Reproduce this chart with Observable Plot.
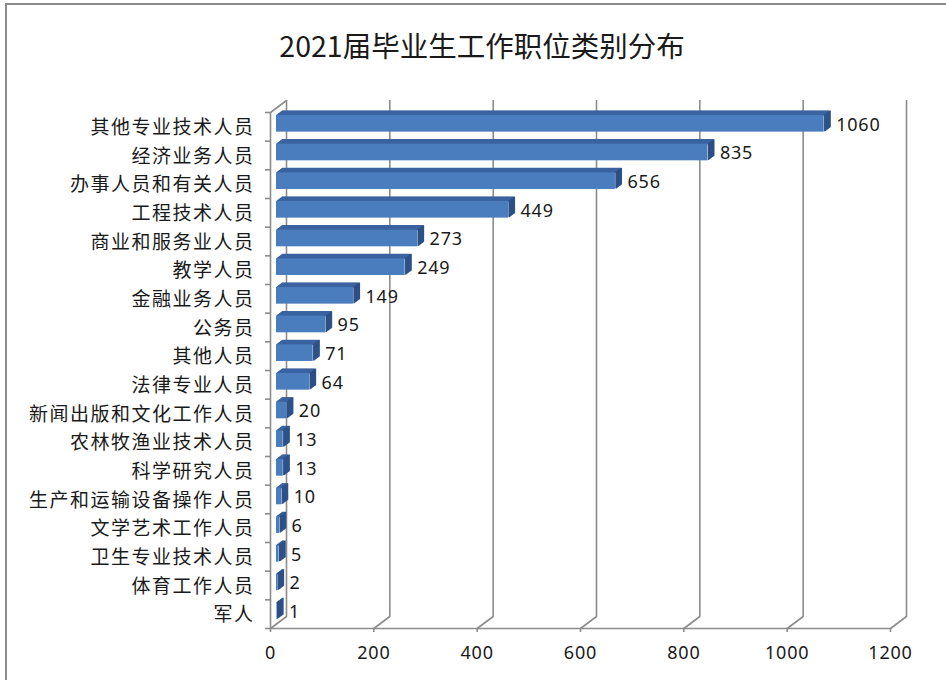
<!DOCTYPE html>
<html>
<head>
<meta charset="utf-8">
<script src="https://cdn.jsdelivr.net/npm/d3@7"></script>
<script src="https://cdn.jsdelivr.net/npm/@observablehq/plot@0.6"></script>
<style>
  html, body { margin: 0; padding: 0; background: #fff; }
  #wrap { position: relative; width: 946px; height: 680px; overflow: hidden; background: #fff; }
  #frame { position: absolute; left: 5px; top: 3px; width: 960px; height: 700px; border-left: 2px solid #8a8a8a; border-top: 2px solid #8a8a8a; box-sizing: border-box; }
  #title { position: absolute; top: 25px; left: 0; width: 964px; text-align: center; font-family: "Noto Sans CJK SC", "Noto Sans", sans-serif; font-size: 28.5px; color: #1a1a1a; line-height: 40px; }
  #chart { position: absolute; left: 0; top: 0; }
</style>
</head>
<body>
<div id="wrap">
  <div id="frame"></div>
  <div id="chart"></div>
  <div id="title">2021届毕业生工作职位类别分布</div>
</div>
<script>
const categories = ["其他专业技术人员","经济业务人员","办事人员和有关人员","工程技术人员","商业和服务业人员","教学人员","金融业务人员","公务员","其他人员","法律专业人员","新闻出版和文化工作人员","农林牧渔业技术人员","科学研究人员","生产和运输设备操作人员","文学艺术工作人员","卫生专业技术人员","体育工作人员","军人"];
const values = [1060,835,656,449,273,249,149,95,71,64,20,13,13,10,6,5,2,1];
const xTicks = [0,200,400,600,800,1000,1200];

const data = categories.map((c, i) => ({cat: c, i, v: values[i]}));
const boundaries = d3.range(-0.5, categories.length, 1);
const half = 0.29;
const gridColor = "#8c8c8c";
const cjk = "'Noto Sans CJK SC', sans-serif";
const num = "'Noto Sans', sans-serif";

const marks = [];
// back wall gridlines
marks.push(Plot.ruleX(xTicks, {x: d => d, dx: 16, dy: -12, stroke: gridColor, strokeWidth: 1.6}));
// floor diagonals
marks.push(Plot.vector(xTicks, {x: d => d, y: () => 17.5, rotate: 53.13, length: 20, anchor: "start", r: 0, stroke: gridColor, strokeWidth: 1.6}));
// left wall top diagonal
marks.push(Plot.vector([-0.5], {x: () => 0, y: d => d, rotate: 53.13, length: 20, anchor: "start", r: 0, stroke: gridColor, strokeWidth: 1.6}));
// front axis lines
marks.push(Plot.ruleY([17.5], {stroke: gridColor, strokeWidth: 1.6}));
marks.push(Plot.ruleX([0], {stroke: gridColor, strokeWidth: 1.6}));
// y ticks at category boundaries
marks.push(Plot.axisY({ticks: boundaries, tickSize: 5, tickFormat: () => "", label: null, stroke: gridColor, strokeWidth: 1.6}));
// x axis
marks.push(Plot.axisX({ticks: xTicks, tickSize: 4, tickPadding: 14, label: null, stroke: gridColor, strokeWidth: 1.6, fontSize: 18, fontFamily: num, fill: "#1a1a1a", tickFormat: d => String(d), ariaDescription: "numtext"}));

// bar extrusion: top face
for (let k = 0.5; k <= 6; k += 0.5) {
  marks.push(Plot.ruleY(data, {y: d => d.i - half, x1: () => 0, x2: "v", dx: 6 + k, dy: -3 - 0.75 * k, stroke: "#3b63a0", strokeWidth: 1.2}));
}
// bar extrusion: side face
for (let k = 0.5; k <= 6; k += 0.5) {
  marks.push(Plot.ruleX(data, {x: "v", y1: d => d.i - half, y2: d => d.i + half, dx: 6 + k, dy: -3 - 0.75 * k, stroke: "#2c5188", strokeWidth: 1.2}));
}
// bar front face
marks.push(Plot.rect(data, {x1: () => 0, x2: "v", y1: d => d.i - half, y2: d => d.i + half, dx: 6, dy: -3, fill: "#4a7dbd"}));

// value labels
marks.push(Plot.text(data, {x: "v", y: "i", text: d => String(d.v), dx: 18, dy: -2, textAnchor: "start", fontSize: 18, fontFamily: num, fill: "#1a1a1a", ariaDescription: "numtext"}));
// category labels
marks.push(Plot.text(data, {x: () => 0, y: "i", text: "cat", dx: -16, dy: 1, textAnchor: "end", fontSize: 19, fontFamily: cjk, fill: "#1a1a1a", ariaDescription: "cattext"}));

const chart = Plot.plot({
  width: 946,
  height: 680,
  marginTop: 112,
  marginBottom: 52,
  marginLeft: 270,
  marginRight: 56,
  x: {domain: [0, 1200], label: null},
  y: {domain: [17.5, -0.5], label: null},
  style: {background: "transparent", overflow: "visible"},
  marks
});
d3.select(chart).selectAll("g[aria-description='cattext'] text").style("letter-spacing", "1.5px");
d3.select(chart).selectAll("g[aria-description='numtext'] text").style("letter-spacing", "0.8px");
document.getElementById("chart").appendChild(chart);
</script>
</body>
</html>
